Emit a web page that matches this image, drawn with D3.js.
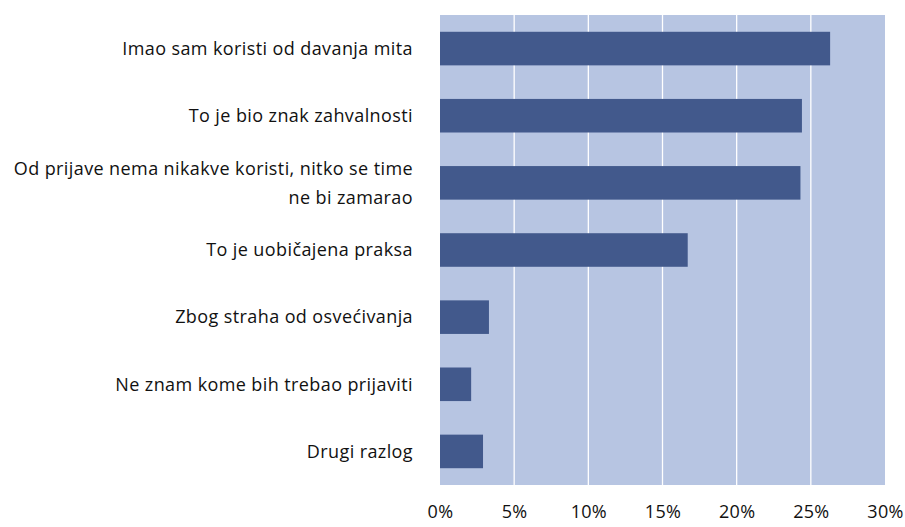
<!DOCTYPE html>
<html><head><meta charset="utf-8">
<script src="https://cdn.jsdelivr.net/npm/d3@7"></script>
<style>body{margin:0;background:#fff}svg{display:block}</style>
</head><body>
<svg id="c" width="905" height="527"></svg>
<script>
const categories = [
  ["Imao sam koristi od davanja mita"],
  ["To je bio znak zahvalnosti"],
  ["Od prijave nema nikakve koristi, nitko se time", "ne bi zamarao"],
  ["To je uobičajena praksa"],
  ["Zbog straha od osvećivanja"],
  ["Ne znam kome bih trebao prijaviti"],
  ["Drugi razlog"]
];
const values = [26.3, 24.4, 24.3, 16.7, 3.3, 2.1, 2.9];
const tickValues = [0, 5, 10, 15, 20, 25, 30];

const svg = d3.select("#c");
const m = {l: 440, r: 885, t: 15, b: 485};
const font = "'Open Sans', sans-serif";
const x = d3.scaleLinear().domain([0, 30]).range([m.l, m.r]);
const y = d3.scaleBand().domain(d3.range(categories.length)).range([m.t, m.b]).paddingInner(0.5).paddingOuter(0.25);

svg.append("rect").attr("x", m.l).attr("y", m.t).attr("width", m.r - m.l).attr("height", m.b - m.t).attr("fill", "#B7C5E2");

svg.append("g").selectAll("line").data(tickValues.slice(1, -1)).join("line")
  .attr("x1", d => x(d)).attr("x2", d => x(d)).attr("y1", m.t).attr("y2", m.b)
  .attr("stroke", "#fff").attr("stroke-width", 1.3);

svg.append("g").selectAll("rect").data(values).join("rect")
  .attr("x", x(0)).attr("y", (d, i) => y(i)).attr("width", d => x(d) - x(0)).attr("height", y.bandwidth())
  .attr("fill", "#42598C");

const lab = svg.append("g").attr("font-family", font).attr("font-size", 18).attr("letter-spacing", 0.4)
  .attr("fill", "#111").attr("text-anchor", "end");
categories.forEach((lines, i) => {
  const cy = y(i) + y.bandwidth() / 2;
  const lh = 29;
  lines.forEach((t, j) => {
    lab.append("text").attr("x", 413).attr("y", cy + (j - (lines.length - 1) / 2) * lh)
      .attr("dy", "0.35em").text(t);
  });
});

const xa = svg.append("g").attr("transform", `translate(0,${m.b})`)
  .call(d3.axisBottom(x).tickValues(tickValues).tickFormat(d => d + "%").tickSize(0).tickPadding(24));
xa.select(".domain").remove();
xa.selectAll("text").attr("font-family", font).attr("font-size", 18).attr("letter-spacing", 0.3)
  .attr("dy", "0.5em").attr("fill", "#111");
</script>
</body></html>
